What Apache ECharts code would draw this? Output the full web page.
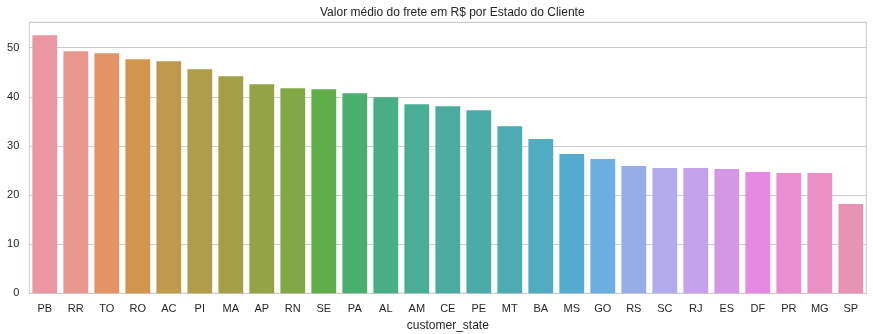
<!DOCTYPE html>
<html>
<head>
<meta charset="utf-8">
<script src="https://cdn.jsdelivr.net/npm/echarts@6/dist/echarts.min.js"></script>
<style>
html,body{margin:0;padding:0;background:#fff;}
#chart{width:873px;height:334px;}
</style>
</head>
<body>
<div id="chart"></div>
<script>
const states = ['PB','RR','TO','RO','AC','PI','MA','AP','RN','SE','PA','AL','AM','CE','PE','MT','BA','MS','GO','RS','SC','RJ','ES','DF','PR','MG','SP'];
const freightMean = [52.54,49.29,48.88,47.66,47.25,45.63,44.20,42.58,41.76,41.56,40.75,39.93,38.50,38.10,37.29,34.03,31.39,28.34,27.32,25.90,25.49,25.49,25.29,24.68,24.47,24.47,18.17];
const yTicks = [0,10,20,30,40,50];

// seaborn husl palette (l=.7) desaturated by 0.75
const M = [[3.2406,-1.5372,-0.4986],[-0.9689,1.8758,0.0415],[0.0557,-0.2040,1.0570]];
function maxChroma(L,H){
  const hr=H*Math.PI/180, sinH=Math.sin(hr), cosH=Math.cos(hr);
  const sub1=Math.pow(L+16,3)/1560896, sub2=sub1>0.008856?sub1:L/903.3;
  let res=Infinity;
  for(const r of M){
    const top=(0.99915*r[0]+1.05122*r[1]+1.14460*r[2])*sub2;
    const rb=0.86330*r[2]-0.17266*r[1], lb=0.12949*r[2]-0.38848*r[0];
    const bottom=(rb*sinH+lb*cosH)*sub2;
    for(const t of [0,1]){
      const C=L*(top-1.05122*t)/(bottom+0.17266*sinH*t);
      if(C>0&&C<res)res=C;
    }
  }
  return res;
}
function huslToRgb(H,S,L){
  const C=maxChroma(L,H)/100*S;
  const hr=H*Math.PI/180, U=Math.cos(hr)*C, V=Math.sin(hr)*C;
  const t=(L+16)/116, varY=Math.pow(t,3)>0.008856?Math.pow(t,3):(116*t-16)/903.3;
  const varU=U/(13*L)+0.19784, varV=V/(13*L)+0.46834;
  const Y=varY, X=-(9*Y*varU)/((varU-4)*varV-varU*varV);
  const Z=(9*Y-15*varV*Y-varV*X)/(3*varV);
  return M.map(r=>{const c=r[0]*X+r[1]*Y+r[2]*Z;const v=c<=0.0031308?12.92*c:1.055*Math.pow(c,1/2.4)-0.055;return Math.min(1,Math.max(0,v));});
}
function rgbToHls(r,g,b){
  const mx=Math.max(r,g,b), mn=Math.min(r,g,b), sum=mx+mn, rg=mx-mn, l=sum/2;
  if(mx===mn)return[0,l,0];
  const s=l<=0.5?rg/sum:rg/(2-sum);
  const rc=(mx-r)/rg, gc=(mx-g)/rg, bc=(mx-b)/rg;
  let h = r===mx? bc-gc : (g===mx? 2+rc-bc : 4+gc-rc);
  h=((h/6)%1+1)%1;
  return [h,l,s];
}
function vv(m1,m2,h){h=((h%1)+1)%1;if(h<1/6)return m1+(m2-m1)*h*6;if(h<0.5)return m2;if(h<2/3)return m1+(m2-m1)*(2/3-h)*6;return m1;}
function hlsToRgb(h,l,s){if(s===0)return[l,l,l];const m2=l<=0.5?l*(1+s):l+s-l*s, m1=2*l-m2;return[vv(m1,m2,h+1/3),vv(m1,m2,h),vv(m1,m2,h-1/3)];}
function toHex(rgb){return '#'+rgb.map(v=>Math.round(v*255).toString(16).padStart(2,'0')).join('');}
const n=states.length;
const colors=[];
for(let i=0;i<n;i++){
  const h=((i/n+0.01)%1)*359;
  const rgb=huslToRgb(h,0.9*99,0.7*99);
  const hls=rgbToHls(...rgb);
  colors.push(toHex(hlsToRgb(hls[0],hls[1],hls[2]*0.75)));
}

const chart=echarts.init(document.getElementById('chart'),null,{renderer:'canvas'});
const font='"Liberation Sans", Arial, sans-serif';
chart.setOption({
  animation:false,
  backgroundColor:'#ffffff',
  title:{text:'Valor médio do frete em R$ por Estado do Cliente',left:315,top:2,
    textStyle:{fontFamily:font,fontSize:12,fontWeight:'normal',color:'#262626'}},
  grid:{left:29.3,right:6.7,top:22.3,bottom:40.7,show:true,borderColor:'#cccccc',borderWidth:1,
    containLabel:false,outerBoundsMode:'none'},
  xAxis:{type:'category',data:states,name:'customer_state',nameLocation:'middle',nameGap:19,
    nameTextStyle:{fontFamily:font,fontSize:12,color:'#262626',verticalAlign:'top'},
    axisTick:{show:false},axisLine:{show:true,lineStyle:{color:'#cccccc',width:1}},
    axisLabel:{fontFamily:font,fontSize:11,color:'#262626',margin:10,interval:0},
    splitLine:{show:false}},
  yAxis:{type:'value',min:0,max:55.17,interval:10,
    axisTick:{show:false},axisLine:{show:false},
    axisLabel:{fontFamily:font,fontSize:11,color:'#262626',margin:10,
      showMaxLabel:false,formatter:v=>yTicks.includes(v)?String(v):''},
    splitLine:{show:true,lineStyle:{color:'#cccccc',width:1}}},
  series:[{type:'bar',data:freightMean.map((v,i)=>({value:v,itemStyle:{color:colors[i]}})),
    barCategoryGap:'20%'}]
});
</script>
</body>
</html>
